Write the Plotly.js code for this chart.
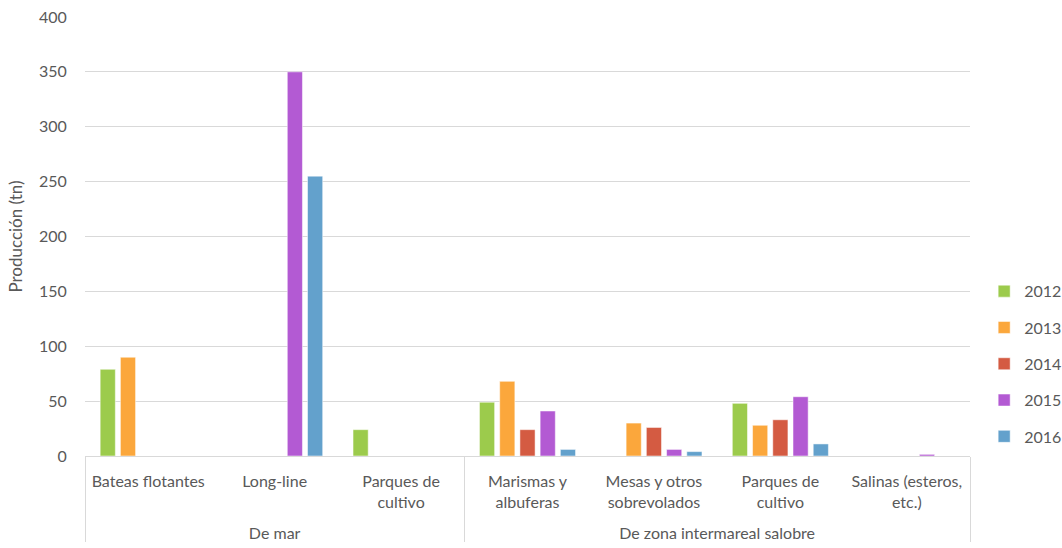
<!DOCTYPE html>
<html><head><meta charset="utf-8">
<script src="https://cdn.plot.ly/plotly-3.0.1.min.js"></script>
<style>body{margin:0}#c{width:1062px;height:548px}</style>
</head><body><div id="c"></div>
<script>
const groups = ["De mar","De mar","De mar","De zona intermareal salobre","De zona intermareal salobre","De zona intermareal salobre","De zona intermareal salobre"];
const categories = ["Bateas flotantes","Long-line","Parques de<br>cultivo<br> ","Marismas y<br>albuferas<br> ","Mesas y otros<br>sobrevolados<br> ","Parques de<br>cultivo<br>\u200b","Salinas (esteros,<br>etc.)<br> "];
const years = ["2012","2013","2014","2015","2016"];
const v2012 = [79, 0, 24, 49, 0, 48, 0];
const v2013 = [90, 0, 0, 68, 30, 28, 0];
const v2014 = [0, 0, 0, 24, 26, 33, 0];
const v2015 = [0, 350, 0, 41, 6, 54, 1.5];
const v2016 = [0, 255, 0, 6, 4, 11, 0];
const colors = ["#9CCB4C","#FBA73C","#D45B42","#B35AD3","#63A1CC"];
const series = [v2012, v2013, v2014, v2015, v2016];
const traces = series.map((s,i)=>({
  type:"bar", name: years[i], x:[groups, categories], y:s,
  marker:{color:colors[i], line:{color:"rgba(255,255,255,0.5)", width:1}},
  legendgroup: "g"+i, hoverinfo:"y"
}));
const font = "Lato, 'Open Sans', sans-serif";
Plotly.newPlot("c", traces, {
  width:1062, height:548,
  margin:{l:85, r:92, t:17, b:92, autoexpand:false},
  paper_bgcolor:"#fff", plot_bgcolor:"#fff",
  font:{family:font, size:16, color:"#595959"},
  barmode:"group", bargap:0.2, bargroupgap:0.25,
  xaxis:{type:"multicategory", showline:true, linecolor:"#d9d9d9", linewidth:1,
    showdividers:true, dividercolor:"#d9d9d9", dividerwidth:1, tickangle:0,
    tickfont:{size:16, color:"#595959"}, ticks:"", ticklabelstandoff:11},
  yaxis:{range:[0,400], dtick:50, showgrid:true, gridcolor:"#d9d9d9", zeroline:false,
    showline:false, tickfont:{size:16, color:"#595959"}, ticks:"outside", ticklen:14, tickcolor:"rgba(0,0,0,0)",
    title:{text:"Producción (tn)", font:{size:17, color:"#595959"}, standoff:12}},
  legend:{x:1.016, xanchor:"left", y:0.414, yanchor:"top", traceorder:"grouped", tracegroupgap:12.5,
    font:{size:16, color:"#595959"}, itemwidth:30},
  showlegend:true
}, {displayModeBar:false, staticPlot:true});
</script></body></html>
